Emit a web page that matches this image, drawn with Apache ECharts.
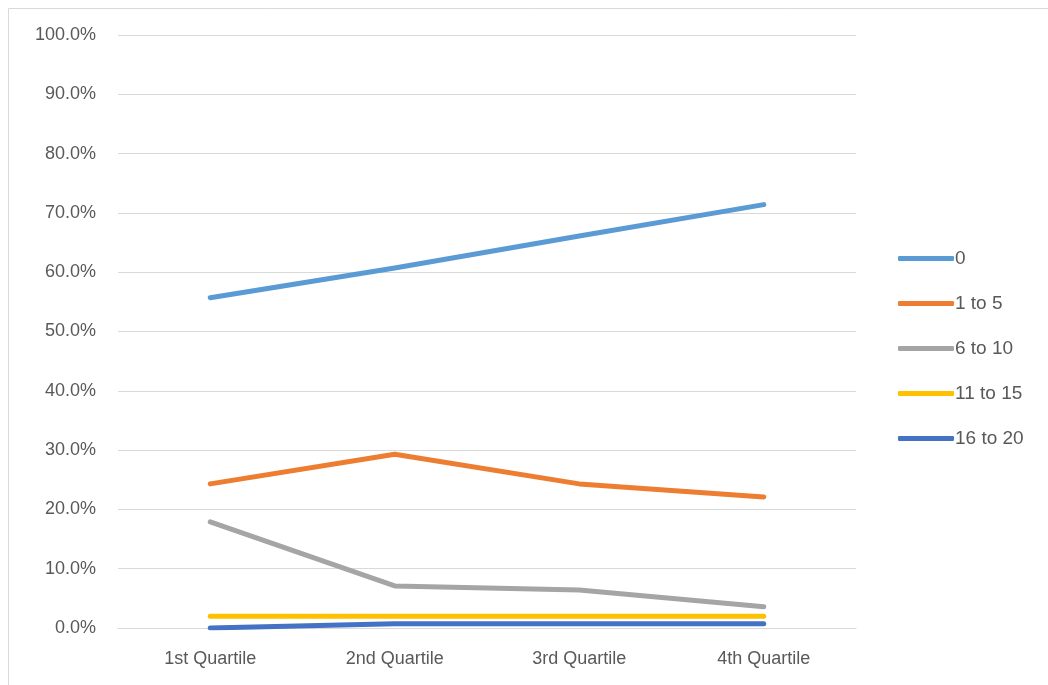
<!DOCTYPE html>
<html><head><meta charset="utf-8">
<script src="https://cdn.jsdelivr.net/npm/echarts@6/dist/echarts.min.js"></script>
<style>html,body{margin:0;padding:0;background:#fff}#c{width:1048px;height:685px}</style>
</head><body><div id="c"></div>
<script>
const categories = ['1st Quartile', '2nd Quartile', '3rd Quartile', '4th Quartile'];
const seriesNames = ['0', '1 to 5', '6 to 10', '11 to 15', '16 to 20'];
const s0 = [55.7, 60.7, 66.1, 71.4];
const s1to5 = [24.3, 29.3, 24.3, 22.1];
const s6to10 = [17.9, 7.1, 6.4, 3.6];
const s11to15 = [2.0, 2.0, 2.0, 2.0];
const s16to20 = [0.0, 0.7, 0.7, 0.7];
const colors = ['#5B9BD5', '#ED7D31', '#A5A5A5', '#FFC000', '#4472C4'];
const values = [s0, s1to5, s6to10, s11to15, s16to20];
const font = 'Liberation Sans';

const chart = echarts.init(document.getElementById('c'), null, {renderer: 'canvas'});
chart.setOption({
  animation: false,
  color: colors,
  textStyle: {fontFamily: font},
  graphic: [{
    type: 'rect', left: 6, top: 6, z: -1,
    shape: {width: 1100, height: 720},
    style: {fill: 'none', stroke: '#d9d9d9', lineWidth: 1}
  }],
  grid: {left: 118, top: 35, width: 738, height: 593, containLabel: false},
  legend: {
    orient: 'vertical', left: 893, top: 244,
    itemWidth: 56, itemHeight: 5, itemGap: 26, icon: 'roundRect',
    textStyle: {fontFamily: font, fontSize: 19, color: '#595959', padding: [0, 0, 0, -4]},
    data: seriesNames
  },
  xAxis: {
    type: 'category', data: categories, boundaryGap: true,
    axisLine: {show: true, lineStyle: {color: '#d9d9d9', width: 1}},
    axisTick: {show: false},
    axisLabel: {color: '#595959', fontSize: 18, fontFamily: font, margin: 22}
  },
  yAxis: {
    type: 'value', min: 0, max: 100, interval: 10,
    axisLine: {show: false}, axisTick: {show: false},
    splitLine: {lineStyle: {color: '#d9d9d9', width: 1}},
    axisLabel: {color: '#595959', fontSize: 18, fontFamily: font, margin: 22,
      formatter: v => v.toFixed(1) + '%'}
  },
  series: seriesNames.map((n, i) => ({
    name: n, type: 'line', data: values[i], showSymbol: false, symbol: 'none',
    lineStyle: {width: 5, color: colors[i], cap: 'round', join: 'round'},
    itemStyle: {color: colors[i]}, z: 10 - i
  }))
});
</script></body></html>
